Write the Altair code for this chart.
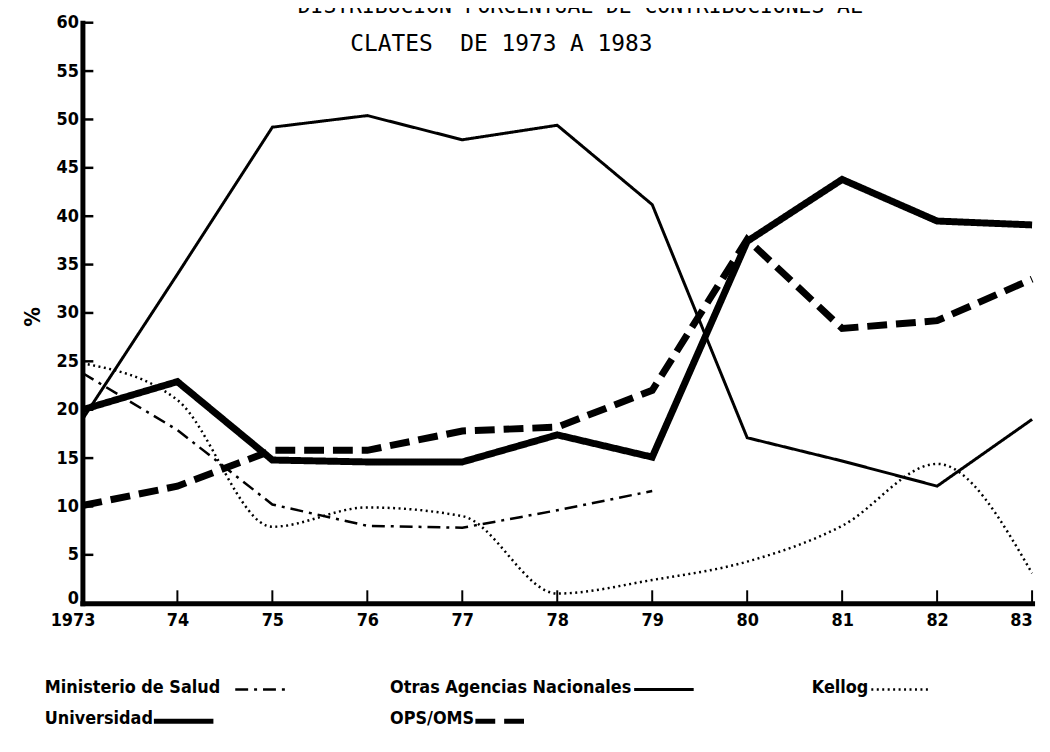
import altair as alt
import pandas as pd

# ---------------- data ----------------
years = [1973, 1974, 1975, 1976, 1977, 1978, 1979, 1980, 1981, 1982, 1983]
x_labels = ["1973", "74", "75", "76", "77", "78", "79", "80", "81", "82", "83"]
y_ticks = [0, 5, 10, 15, 20, 25, 30, 35, 40, 45, 50, 55, 60]

ministerio = [23.8, 17.9, 10.2, 8.0, 7.8, 9.6, 11.6]          # 1973-1979
otras = [19.0, 34.0, 49.2, 50.4, 47.9, 49.4, 41.2, 17.1, 14.7, 12.1, 19.0]
kellog = [24.8, 21.0, 7.9, 9.9, 9.0, 1.0, 2.4, 4.3, 8.0, 14.4, 3.1]
universidad = [20.0, 22.9, 14.8, 14.6, 14.6, 17.4, 15.1, 37.4, 43.8, 39.5, 39.1]
ops_oms = [10.1, 12.1, 15.8, 15.8, 17.8, 18.2, 22.0, 37.6, 28.4, 29.2, 33.5]

series_names = ["Ministerio de Salud", "Otras Agencias Nacionales", "Kellog",
                "Universidad", "OPS/OMS"]
series_values = [ministerio, otras, kellog, universidad, ops_oms]

title_1 = "DISTRIBUCION PORCENTUAL DE CONTRIBUCIONES AL"
title_2 = "CLATES\u00a0 DE 1973 A 1983"

# ---------------- styling ----------------
W, H = 957, 585
LABEL_FONT = "Liberation Sans Narrow, DejaVu Sans Condensed, sans-serif"
TITLE_FONT = "DejaVu Sans Mono, Liberation Mono, monospace"

styles = {
    "Ministerio de Salud": dict(strokeWidth=2.5, strokeDash=[13, 6, 3, 6], interpolate="linear"),
    "Otras Agencias Nacionales": dict(strokeWidth=3, strokeDash=[1, 0], interpolate="linear"),
    "Kellog": dict(strokeWidth=2.5, strokeDash=[2, 3.5], interpolate="monotone"),
    "Universidad": dict(strokeWidth=7, strokeDash=[1, 0], interpolate="linear"),
    "OPS/OMS": dict(strokeWidth=7, strokeDash=[20, 9], interpolate="linear"),
}

label_expr = "[" + ",".join("'%s'" % l for l in x_labels) + "][datum.value - 1973]"

x_enc = alt.X(
    "year:Q",
    scale=alt.Scale(domain=[1973, 1983], nice=False, zero=False),
    axis=alt.Axis(values=years, labelExpr=label_expr, title=None, ticks=False,
                  grid=False, domainWidth=5, domainColor="black", domainCap="square",
                  labelFont=LABEL_FONT, labelFontSize=18, labelFontWeight="bold",
                  labelColor="black", labelPadding=8, labelFlush=False,
                  labelAlign={"condition": {"test": "datum.value == 1983", "value": "right"},
                              "value": "center"},
                  labelOffset={"condition": {"test": "datum.value == 1973", "value": -10},
                               "value": 0}),
)
y_enc = alt.Y(
    "value:Q",
    scale=alt.Scale(domain=[0, 60], nice=False, zero=True),
    axis=alt.Axis(values=y_ticks, title="%", ticks=False, grid=False,
                  domainWidth=5, domainColor="black", domainCap="square",
                  labelFont=LABEL_FONT, labelFontSize=18, labelFontWeight="bold",
                  labelColor="black", labelPadding=4, labelFlush=False,
                  labelOffset={"condition": {"test": "datum.value == 0", "value": -5},
                               "value": 0},
                  titleFont=LABEL_FONT, titleFontSize=22, titleFontWeight="bold",
                  titleColor="black", titleX=-38, titleY=296),
)

layers = []

# series lines
for name, vals in zip(series_names, series_values):
    d = pd.DataFrame({"year": years[:len(vals)], "value": vals})
    st = styles[name]
    layers.append(
        alt.Chart(d).mark_line(color="black", strokeWidth=st["strokeWidth"],
                               strokeDash=st["strokeDash"], interpolate=st["interpolate"])
        .encode(x=x_enc, y=y_enc)
    )

# inward y ticks
yt = pd.DataFrame({"value": y_ticks[1:]})
layers.append(
    alt.Chart(yt).mark_rule(color="black", strokeWidth=2.5)
    .encode(y=y_enc, x=alt.value(0), x2=alt.value(11))
)
# inward x ticks
xt = pd.DataFrame({"year": years[1:]})
layers.append(
    alt.Chart(xt).mark_rule(color="black", strokeWidth=2)
    .encode(x=x_enc, y=alt.value(H), y2=alt.value(H - 13))
)

# titles
layers.append(
    alt.Chart(pd.DataFrame({"t": [title_1]})).mark_text(
        font=TITLE_FONT, fontSize=21.5, align="left", baseline="alphabetic", color="black")
    .encode(text="t:N", x=alt.value(217), y=alt.value(-10))
)
layers.append(
    alt.Chart(pd.DataFrame({"t": [title_2]})).mark_text(
        font=TITLE_FONT, fontSize=23, align="left", baseline="alphabetic", color="black")
    .encode(text="t:N", x=alt.value(270), y=alt.value(29))
)

# legend (label followed by a line sample)
legend_layout = {
    "Ministerio de Salud": (-38, 670, 154, 207),
    "Otras Agencias Nacionales": (310, 670, 556, 616),
    "Kellog": (735, 670, 795, 852),
    "Universidad": (-38, 702, 72, 132),
    "OPS/OMS": (310, 702, 396, 447),
}
for name in series_names:
    tx, ty, sx1, sx2 = legend_layout[name]
    st = styles[name]
    layers.append(
        alt.Chart(pd.DataFrame({"t": [name]})).mark_text(
            font=LABEL_FONT, fontSize=18, fontWeight="bold", align="left",
            baseline="middle", color="black")
        .encode(text="t:N", x=alt.value(tx), y=alt.value(ty))
    )
    lw = st["strokeWidth"] if st["strokeWidth"] < 5 else 5
    layers.append(
        alt.Chart(pd.DataFrame({"t": [name]})).mark_rule(
            color="black", strokeWidth=lw, strokeDash=st["strokeDash"])
        .encode(x=alt.value(sx1), x2=alt.value(sx2), y=alt.value(ty + 2))
    )

chart = alt.layer(*layers).properties(
    width=W, height=H,
    autosize="none",
    padding={"left": 75, "top": 12, "right": 10, "bottom": 131},
    background="white",
).configure_view(stroke=None)

chart.save("out.html", embed_options={"renderer": "svg", "actions": False})
